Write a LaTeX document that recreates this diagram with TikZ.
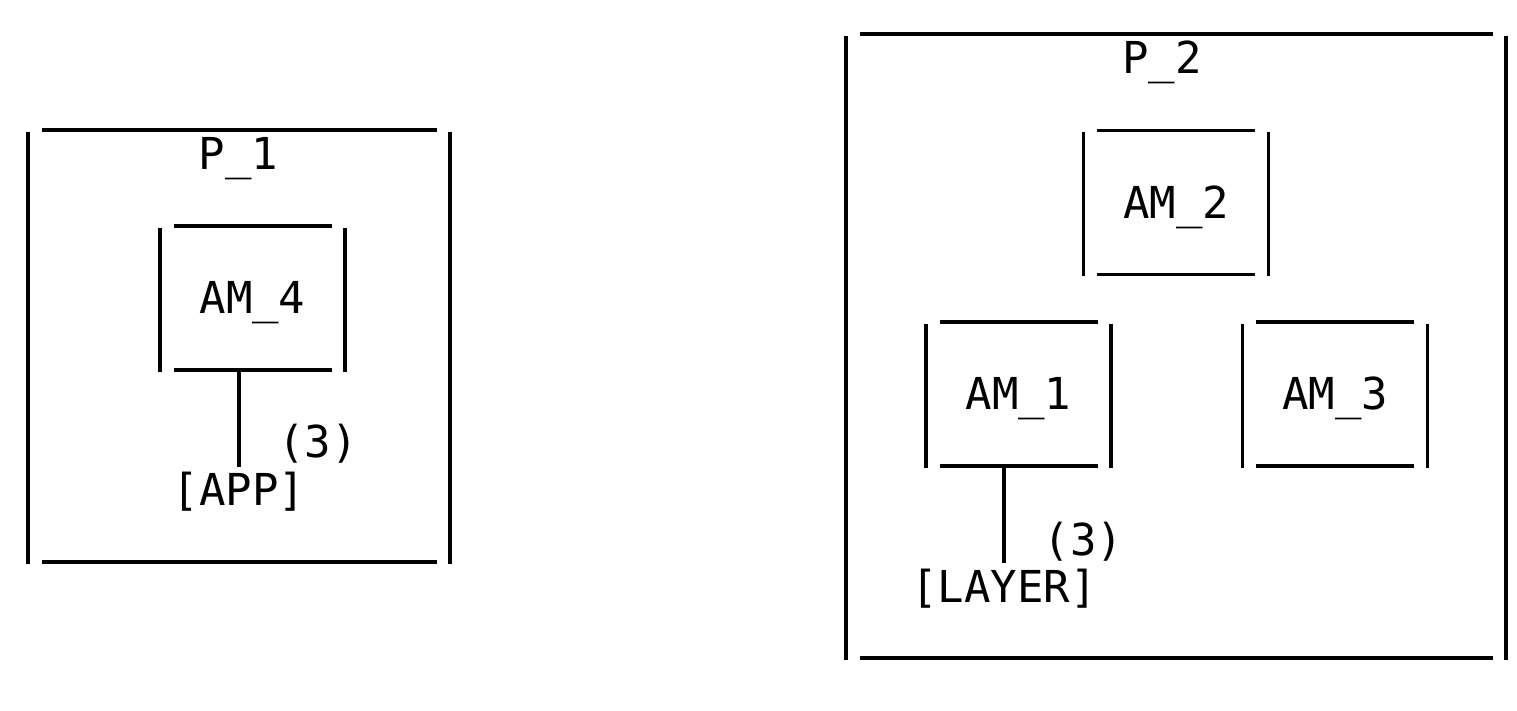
\documentclass[tikz,border=0pt]{standalone}
\usepackage{fontspec}
\usetikzlibrary{positioning}
\newfontfamily\monofam{DejaVu Sans Mono}
\newcommand{\mono}{\monofam\fontsize{22pt}{26pt}\selectfont}
% open-cornered box round a named node
\newcommand{\gapbox}[1]{%
  \draw ([xshift=6.75pt]#1.north west) -- ([xshift=-6.75pt]#1.north east)
        ([xshift=6.75pt]#1.south west) -- ([xshift=-6.75pt]#1.south east);
  \draw ([yshift=-1pt]#1.north west) -- ([yshift=-1pt]#1.south west)
        ([yshift=-1pt]#1.north east) -- ([yshift=-1pt]#1.south east);}

\begin{document}
\begin{tikzpicture}[x=0.5pt,y=-0.5pt,line width=1.9pt,
  amod/.style={minimum width=92.5pt,minimum height=72pt,inner sep=0pt,outer sep=0pt,
    text height=16pt,text depth=0pt,font=\mono},
  proc/.style={inner sep=0pt,outer sep=0pt},
  lbl/.style={inner sep=0pt,anchor=base,font=\mono}]
  \useasboundingbox (0,0) rectangle (1517,711);
  % proceso P_1
  \node[proc,minimum width=211pt,minimum height=216pt] (p1) at (239,346) {};
  \gapbox{p1}
  \node[lbl] (p1lbl) at (238.5,170) {P\_1};
  \node[amod] (am4) at (252.5,298) {AM\_4};
  \gapbox{am4}
  \node[lbl] (app) at (239,506) {[APP]};
  \node[lbl] (app3) at (318,458) {(3)};
  \draw ([yshift=19.5pt]app.base) -- (app.base |- am4.south);
  % proceso P_2
  \node[proc,minimum width=330pt,minimum height=312pt] (p2) at (1176,346) {};
  \gapbox{p2}
  \node[lbl] (p2lbl) at (1162,74) {P\_2};
  \node[amod] (am2) at (1176,202.5) {AM\_2};
  \gapbox{am2}
  \node[amod] (am1) at (1018.5,394) {AM\_1};
  \gapbox{am1}
  \node[amod] (am3) at (1335,394) {AM\_3};
  \gapbox{am3}
  \node[lbl] (layer) at (1004,603) {[LAYER]};
  \node[lbl] (layer3) at (1083.5,555) {(3)};
  \draw ([yshift=20pt]layer.base) -- (layer.base |- am1.south);
\end{tikzpicture}
\end{document}
